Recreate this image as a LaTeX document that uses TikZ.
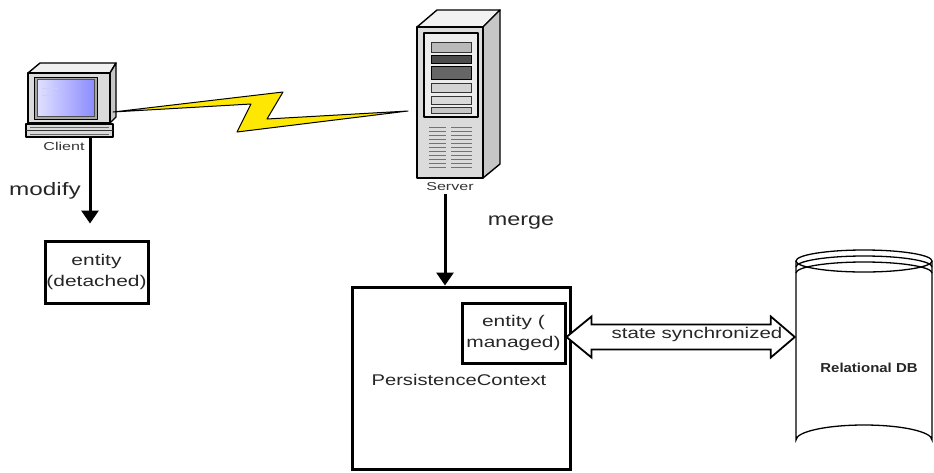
\documentclass[tikz,border=0pt]{standalone}
\usepackage{graphicx}
\usepackage{fontspec}
\setmainfont{Liberation Sans}
\usetikzlibrary{arrows.meta,calc}
% wide, low lettering as in the original drawing
\newcommand{\stretchtxt}[2][1.35]{\scalebox{#1}[1]{#2}}
\begin{document}
\begin{tikzpicture}[x=1pt,y=-1pt,
  txt/.style={font=\fontsize{15.5}{21}\selectfont, text=black!85, align=center, inner sep=0pt},
  big/.style={font=\fontsize{18}{20}\selectfont, text=black!85, inner sep=0pt},
  small/.style={font=\fontsize{11.5}{12}\selectfont, text=black!80, inner sep=0pt},
  boxed/.style={draw, line width=3pt, txt},
  flow/.style={line width=3pt, -{Triangle[length=13pt,width=17pt]}},
  icon/.style={draw=black, line width=1.4pt, line join=round},
  ghost/.style={inner sep=0pt, minimum width=#1},
]
\useasboundingbox (0,0) rectangle (934,472);

% ---------- client workstation ----------
\begin{scope}
  \fill[icon, fill=gray!12] (28,73) -- (40,63) -- (116,63) -- (110,73) -- cycle;
  \fill[icon, fill=gray!45] (110,73) -- (116,63) -- (116,117) -- (110,123) -- cycle;
  \filldraw[icon, fill=gray!28] (28,73) rectangle (110,123);
  \filldraw[icon, fill=gray!70, line width=1pt] (34,77) rectangle (97,119);
  \shade[left color=blue!12!white, right color=blue!45!white, draw=black!70, line width=0.6pt]
    (37,79) rectangle (94,116);
  \draw[white!80!blue, line width=0.8pt] (42,88) -- (58,88) (42,95) -- (52,95);
  \filldraw[icon, fill=gray!30] (26,124) rectangle (113,137);
  \draw[black!80, line width=1pt] (26,130) -- (113,130);
  \draw[black!60, line width=0.6pt] (30,127) -- (109,127) (30,134) -- (109,134);
\end{scope}
\node[ghost=90pt, minimum height=75pt] (client) at (71,100) {};
\node[small, anchor=base] (clientlbl) at (64,150) {\stretchtxt[1.4]{Client}};

% ---------- server tower ----------
\begin{scope}
  \filldraw[icon, fill=gray!10] (417,27) -- (437,10) -- (500,10) -- (483,27) -- cycle;
  \filldraw[icon, fill=gray!45] (483,27) -- (500,10) -- (500,164) -- (483,178) -- cycle;
  \filldraw[icon, fill=gray!28] (417,27) rectangle (483,178);
  \filldraw[icon, fill=gray!15, line width=1.1pt] (424,33) rectangle (478,117);
  \filldraw[draw=black!80, fill=gray!55, line width=0.8pt] (431,42) rectangle (471,52);
  \filldraw[draw=black, fill=black!70, line width=0.8pt] (431,55) rectangle (471,63);
  \filldraw[draw=black, fill=black!60, line width=0.8pt] (431,66) rectangle (471,79);
  \filldraw[draw=black!80, fill=gray!35, line width=0.8pt] (431,83) rectangle (471,92);
  \filldraw[draw=black!80, fill=gray!30, line width=0.8pt] (431,96) rectangle (471,104);
  \filldraw[draw=black!80, fill=gray!45, line width=0.8pt] (431,107) rectangle (471,113);
  \foreach \vy in {127,131,...,167} {
    \draw[black!55, line width=0.7pt] (429,\vy) -- (446,\vy) (451,\vy) -- (472,\vy);
  }
\end{scope}
\node[ghost=84pt, minimum height=168pt] (server) at (458,94) {};
\node[small, anchor=base] (serverlbl) at (450,190) {\stretchtxt[1.4]{Server}};

% ---------- wireless link (lightning bolt) ----------
\filldraw[draw=black, fill=yellow!90!orange, line width=1pt, line join=round]
  (113,112) -- (283,92) -- (267,119) -- (408,111) -- (237,132) -- (251,104) -- cycle;

% ---------- client side ----------
\node[big, anchor=base] (modifylbl) at (45,195) {\stretchtxt{modify}};
\node[boxed, minimum width=103pt, minimum height=62pt] (detached) at (96.5,272)
  {\stretchtxt{entity}\\\stretchtxt{(detached)}};
\coordinate (cfoot) at (90,138);
\draw[flow, shorten >=16pt] (cfoot) -- (cfoot |- detached.north);

% ---------- server side ----------
\node[boxed, minimum width=218pt, minimum height=182pt] (pc) at (461,378) {};
\node[txt, anchor=base] (pclbl) at (459,385) {\stretchtxt[1.3]{PersistenceContext}};
\node[boxed, minimum width=103pt, minimum height=60pt] (managed) at (513.5,333)
  {\stretchtxt{entity (}\\\stretchtxt{managed)}};
\node[big, anchor=base] (mergelbl) at (521,225) {\stretchtxt[1.3]{merge}};
\coordinate (sfoot) at (445,194);
\draw[flow] (sfoot) -- (sfoot |- pc.north);

% ---------- relational database ----------
\node[ghost=136pt, minimum height=200pt] (db) at (864,350) {};
\begin{scope}[line width=1.3pt]
  \fill[white] (796,261) -- (796,440) arc[start angle=180, end angle=360, x radius=68, y radius=15]
    -- (932,261) -- cycle;
  \draw (796,261) -- (796,440) arc[start angle=180, end angle=360, x radius=68, y radius=15]
    -- (932,261);
  \draw (864,261) ellipse [x radius=68, y radius=11];
  \draw (796,267) arc[start angle=180, end angle=360, x radius=68, y radius=11];
  \draw (796,273) arc[start angle=180, end angle=360, x radius=68, y radius=11];
\end{scope}
\node[font=\bfseries\fontsize{13}{14}\selectfont, text=black!85, inner sep=0pt]
  (dblbl) at (869,368) {\stretchtxt[1.15]{Relational DB}};

% ---------- state synchronisation (hollow double arrow) ----------
\coordinate (sl) at ($(managed.east)+(0,4)$);
\coordinate (sr) at ($(db.west |- sl)+(-1,0)$);
\filldraw[draw=black, fill=white, line width=1.8pt, line join=miter]
  (sl) -- ($(sl)+(25,-20.5)$) -- ($(sl)+(25,-12.5)$) -- ($(sr)+(-24,-12.5)$)
  -- ($(sr)+(-24,-20.5)$) -- (sr) -- ($(sr)+(-24,20.5)$) -- ($(sr)+(-24,12.5)$)
  -- ($(sl)+(25,12.5)$) -- ($(sl)+(25,20.5)$) -- cycle;
\node[txt, anchor=base] (synclbl) at (697,338) {\stretchtxt[1.32]{state synchronized}};
\end{tikzpicture}
\end{document}
